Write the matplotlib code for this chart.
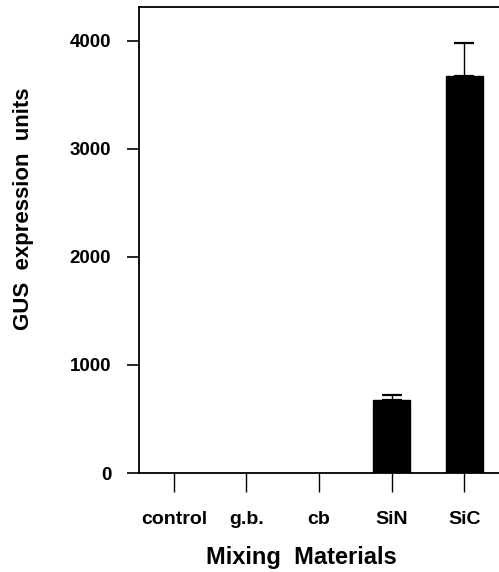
import matplotlib
matplotlib.use('Agg')
from matplotlib import pyplot as plt

categories = ['control', 'g.b.', 'cb', 'SiN', 'SiC']
gus_units = [0, 0, 0, 674, 3674]
gus_error = [0, 0, 0, 52, 300]
y_ticks = [0, 1000, 2000, 3000, 4000]

plt.rcParams['font.family'] = ['Liberation Sans', 'DejaVu Sans']
plt.rcParams['font.weight'] = 'bold'

fig = plt.figure(figsize=(4.99, 5.72), dpi=100)
ax = fig.add_axes([139 / 499, 1 - 473 / 572, 1 - 139 / 499, 466 / 572])

x = list(range(len(categories)))
shown = [i for i, v in enumerate(gus_units) if v > 0]
ax.bar([x[i] for i in shown], [gus_units[i] for i in shown], width=0.51,
       color='black', edgecolor='black')
ax.errorbar([x[i] for i in shown], [gus_units[i] for i in shown],
            yerr=[[0] * len(shown), [gus_error[i] for i in shown]],
            fmt='none', ecolor='black', elinewidth=1.0, capsize=7, capthick=1.6)

ax.set_xlim(-0.48, 4.48)
ax.set_ylim(0, 4310)
ax.set_xticks(x)
ax.set_xticklabels(categories, fontsize=14, fontweight='bold')
ax.set_yticks(y_ticks)
ax.set_yticklabels([str(v) for v in y_ticks], fontsize=13.5, fontweight='bold')
ax.tick_params(axis='y', direction='out', length=9, width=1.2, pad=11)
ax.tick_params(axis='x', direction='out', length=14, width=1.0, pad=13)
ax.spines['right'].set_visible(False)
for s in ['left', 'top', 'bottom']:
    ax.spines[s].set_linewidth(1.3)

ax.set_xlabel('Mixing  Materials', fontsize=17, fontweight='bold')
ax.xaxis.set_label_coords(0.45, -0.157)
ax.set_ylabel('GUS  expression  units', fontsize=16, fontweight='bold')
ax.yaxis.set_label_coords(-0.292, 0.567)

fig.savefig('out.png', dpi=100)
